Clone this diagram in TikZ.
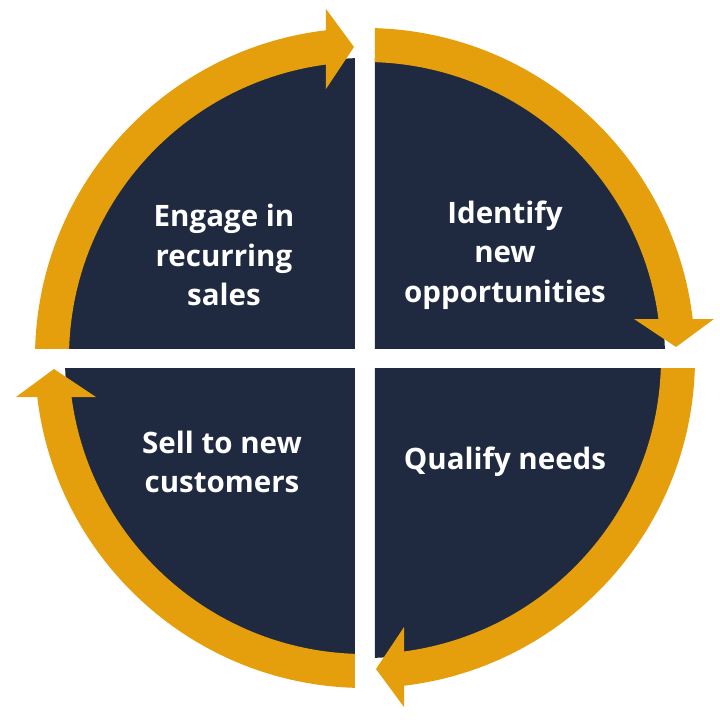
\documentclass[tikz,border=0pt]{standalone}
\usepackage{fontspec}
\setmainfont{Open Sans}
\definecolor{navy}{RGB}{31,41,64}
\definecolor{gold}{RGB}{229,158,12}
\tikzset{
  label/.style={text=white, font=\fontsize{29.5}{39.5}\selectfont\bfseries, align=center, inner sep=0pt},
}
\begin{document}
\begin{tikzpicture}[x=1pt,y=1pt]
\useasboundingbox (-365,-362) rectangle (355,358);
\foreach \ang in {0,-90,-180,-270}{
  \begin{scope}[rotate=\ang]
    \begin{scope}
      \clip (-400,10) rectangle (-10,400);
      \fill[navy] (0,0) circle (300);
    \end{scope}
    \begin{scope}
      \clip (-400,10) rectangle (-39,400);
      \fill[gold, even odd rule] (0,0) circle (330) (0,0) circle (296);
    \end{scope}
    \fill[gold] (-39,349) -- (-11,311) -- (-39,269) -- cycle;
  \end{scope}
}
\node[label] (engage) at (-141,103) {Engage in\\recurring\\sales};
\node[label] (identify) at (140,103) {Identify\\new\\opportunities};
\node[label] (sell) at (-143,-104) {Sell to new\\customers};
\node[label] (qualify) at (140,-104) {Qualify needs};
\end{tikzpicture}
\end{document}
